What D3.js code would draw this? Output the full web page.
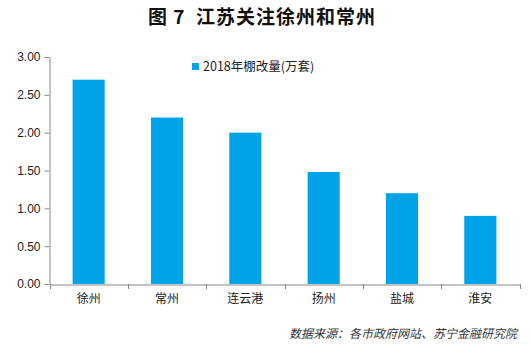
<!DOCTYPE html>
<html><head><meta charset="utf-8">
<script src="https://cdn.jsdelivr.net/npm/d3@7"></script>
<style>body{margin:0;background:#fff;}svg{display:block;}</style>
</head><body>
<svg id="c" width="531" height="344"></svg>
<script>
const categories = ["徐州","常州","连云港","扬州","盐城","淮安"];
const values = [2.70, 2.20, 2.00, 1.48, 1.20, 0.90];
const yTicks = [0, 0.5, 1.0, 1.5, 2.0, 2.5, 3.0];
const seriesName = "2018年棚改量(万套)";
const titleText = "图 7  江苏关注徐州和常州";
const sourceText = "数据来源：各市政府网站、苏宁金融研究院";

const svg = d3.select("#c");
const font = "'Noto Sans CJK SC', 'Microsoft YaHei', sans-serif";
const x = d3.scaleBand().domain(categories).range([49.5, 519.5]).paddingInner(0.59).paddingOuter(0.295);
const y = d3.scaleLinear().domain([0, 3]).range([284, 57]);

svg.append("text").attr("x", 262).attr("y", 24).attr("text-anchor", "middle")
  .style("white-space","pre").attr("letter-spacing", 1)
  .attr("font-family", font).attr("font-weight", "bold").attr("font-size", 19).attr("fill", "#111").text(titleText);

svg.selectAll("rect.bar").data(values).enter().append("rect").attr("class","bar")
  .attr("x", (d,i)=>x(categories[i])).attr("width", x.bandwidth())
  .attr("y", d=>y(d)).attr("height", d=>y(0)-y(d)).attr("fill", "#00A2E8");

const ya = svg.append("g").attr("transform","translate(49.5,0)")
  .call(d3.axisLeft(y).tickValues(yTicks).tickFormat(d3.format(".2f")).tickSize(5).tickSizeOuter(0));
ya.select(".domain").attr("stroke","#888");
ya.selectAll(".tick line").attr("stroke","#888");
ya.selectAll("text").attr("font-family","Arial, 'Liberation Sans', sans-serif").attr("font-size",12).attr("fill","#222").attr("x",-9);

const xa = svg.append("g").attr("transform","translate(0,284.5)")
  .call(d3.axisBottom(x).tickSize(0).tickSizeOuter(0));
xa.select(".domain").attr("stroke","#888");
xa.selectAll("text").attr("font-family",font).attr("font-size",12).attr("fill","#222").attr("dy","1.3em");
const bounds = categories.map(c=>x(c)-x.step()*x.paddingInner()/2).concat([519.5]);
bounds[0]=49.5;
svg.selectAll("line.bt").data(bounds).enter().append("line").attr("class","bt")
  .attr("x1",d=>Math.round(d)+0.5).attr("x2",d=>Math.round(d)+0.5).attr("y1",284).attr("y2",289).attr("stroke","#888");

svg.append("rect").attr("x",192).attr("y",63).attr("width",7).attr("height",7).attr("fill","#00A2E8");
svg.append("text").attr("x",203).attr("y",71).attr("font-family",font).attr("font-size",12.5).attr("fill","#222").text(seriesName);

svg.append("text").attr("x",517).attr("y",338).attr("text-anchor","end")
  .attr("font-family",font).attr("font-style","italic").attr("font-size",12).attr("fill","#333").text(sourceText);
</script>
</body></html>
